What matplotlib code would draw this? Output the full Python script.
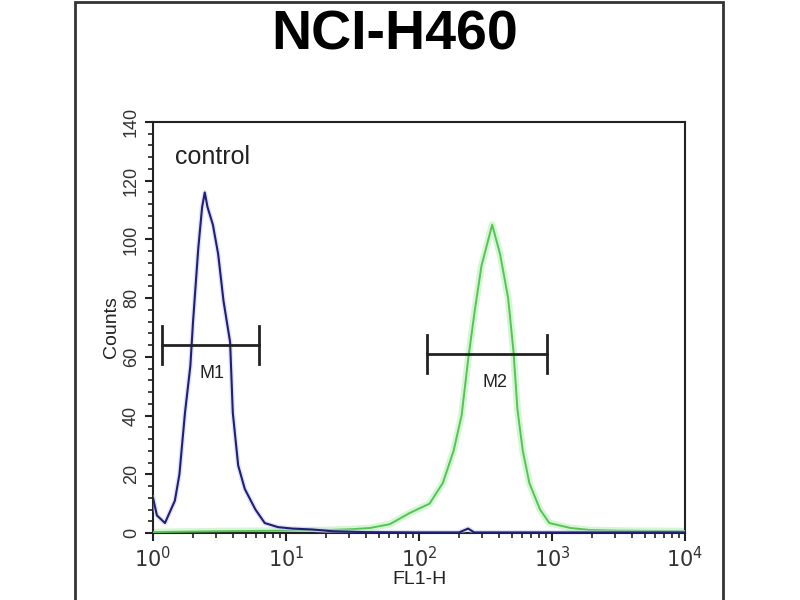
import matplotlib
matplotlib.use("Agg")
import matplotlib.pyplot as plt
from matplotlib.ticker import MultipleLocator, LogLocator, NullFormatter, FixedLocator
from matplotlib.patches import Rectangle

plt.rcParams["font.family"] = ["Liberation Sans", "DejaVu Sans"]

# control histogram (FL1-H value, counts)
ctrl_fl1 = [1.00, 1.07, 1.23, 1.46, 1.58, 1.74, 1.91, 2.00, 2.19, 2.34, 2.45,
            2.57, 2.82, 3.09, 3.39, 3.80, 3.98, 4.37, 4.90, 5.89, 6.92, 8.71,
            11.2, 15.8, 22.4, 39.8, 100, 200, 234, 260, 1000, 10000]
ctrl_counts = [12, 6, 3.4, 11, 20, 41, 57, 72, 97, 111, 116,
               111, 105, 95, 79, 65, 41, 23, 15, 8, 3.4, 2,
               1.5, 1.2, 0.6, 0.3, 0.2, 0.2, 1.5, 0.2, 0.2, 0.2]

# sample histogram
smp_fl1 = [1.0, 3.16, 10, 20, 31.6, 42.7, 60.3, 85, 120, 151, 182, 209, 234, 263,
           295, 355, 407, 468, 513, 550, 603, 676, 813, 955, 1380, 1950,
           3000, 10000]
smp_counts = [0.3, 0.6, 0.8, 1.0, 1.3, 1.7, 3.0, 6.8, 10, 17, 28, 40, 59, 76,
              91, 105, 95, 80, 62, 42, 28, 17, 8, 3.4, 1.7, 1.0,
              0.8, 0.6]

# gates: (name, left, right, bar height, label x, label y)
gate_names = ["M1", "M2"]
gate_left = [1.17, 115]
gate_right = [6.3, 915]
gate_level = [64, 61]
gate_label_x = [2.8, 372]
gate_label_y = [54.5, 51.4]

fig = plt.figure(figsize=(8, 6), dpi=100)
fig.patches.append(Rectangle((75 / 800, -0.01), 648 / 800, 1.0 - 2 / 600 + 0.01,
                             transform=fig.transFigure, fill=False,
                             edgecolor="#333333", linewidth=2))

ax = fig.add_axes([153 / 800, 67 / 600, 532 / 800, 411 / 600])
ax.set_xscale("log")
ax.set_xlim(1, 10000)
ax.set_ylim(0, 140)

# green sample with a soft glow
ax.plot(smp_fl1, smp_counts, color="#b8f0b8", linewidth=5, alpha=0.6, zorder=2)
ax.plot(smp_fl1, smp_counts, color="#55c455", linewidth=1.4, zorder=3)
ax.plot(ctrl_fl1, ctrl_counts, color="#c8c8ee", linewidth=3.5, alpha=0.5, zorder=4)
ax.plot(ctrl_fl1, ctrl_counts, color="#1f1f78", linewidth=1.5, zorder=5)

for name, l, r, h, lx, ly in zip(gate_names, gate_left, gate_right, gate_level,
                                 gate_label_x, gate_label_y):
    ax.plot([l, r], [h, h], color="#222222", linewidth=2, zorder=6)
    ax.plot([l, l], [h - 6.5, h + 6.5], color="#222222", linewidth=2, zorder=6)
    ax.plot([r, r], [h - 6.5, h + 6.5], color="#222222", linewidth=2, zorder=6)
    ax.text(lx, ly, name, ha="center", va="center", fontsize=13, color="#222222")

ax.text(1.46, 128, "control", ha="left", va="center", fontsize=18, color="#222222")

ax.yaxis.set_major_locator(MultipleLocator(20))
ax.yaxis.set_minor_locator(MultipleLocator(4))
ax.xaxis.set_major_locator(FixedLocator([1, 10, 100, 1000, 10000]))
ax.xaxis.set_minor_locator(LogLocator(base=10, subs=range(2, 10)))
ax.xaxis.set_minor_formatter(NullFormatter())
ax.set_xticklabels([r"$10^{0}$", r"$10^{1}$", r"$10^{2}$", r"$10^{3}$", r"$10^{4}$"],
                   fontsize=15)
for lab in ax.get_yticklabels():
    lab.set_rotation(90)
    lab.set_va("center")
    lab.set_fontsize(13)
    lab.set_color("#333333")

ax.tick_params(which="major", direction="out", length=6, width=1.5, color="#222222",
               labelcolor="#333333")
ax.tick_params(which="minor", direction="out", length=3.5, width=1.2, color="#222222")
for sp in ax.spines.values():
    sp.set_linewidth(1.5)
    sp.set_color("#222222")

ax.set_ylabel("Counts", fontsize=14, labelpad=2, color="#222222")
ax.set_xlabel("FL1-H", fontsize=14, labelpad=0, color="#222222")

fig.text(395 / 800, 1 - 36 / 600, "NCI-H460", ha="center", va="center",
         fontsize=40, fontweight="bold")

fig.savefig("out.png", dpi=100)
